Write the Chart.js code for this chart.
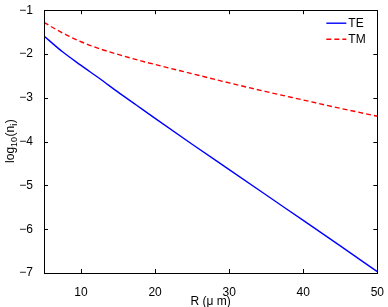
<!DOCTYPE html>
<html>
<head>
<meta charset="utf-8">
<script src="https://cdn.jsdelivr.net/npm/chart.js@4"></script>
<style>
  html, body { margin: 0; padding: 0; background: #fff; overflow: hidden; }
  canvas { display: block; }
</style>
</head>
<body>
<canvas id="chart" width="388" height="307"></canvas>
<script>
const rValues  = [5, 7.5, 10, 12.5, 15, 17.5, 20, 25, 30, 35, 40, 45, 50];
const teValues = [-1.59, -1.95, -2.26, -2.56, -2.87, -3.17, -3.47, -4.06, -4.64, -5.22, -5.80, -6.38, -6.97];
const tmValues = [-1.28, -1.52, -1.72, -1.88, -2.01, -2.13, -2.24, -2.45, -2.66, -2.86, -3.05, -3.24, -3.42];
const xTicks = [10, 20, 30, 40, 50];
const yTicks = [-7, -6, -5, -4, -3, -2, -1];
const seriesNames = ['TE', 'TM'];

const font = "'Liberation Sans', Arial, sans-serif";
const minus = v => String(v).replace('-', '\u2212');

// box, inward ticks, legend and y label
const decor = {
  id: 'decor',
  afterDraw(chart) {
    const { ctx, chartArea: a, scales: { x, y } } = chart;
    ctx.save();
    ctx.strokeStyle = '#000';
    ctx.lineWidth = 1;
    ctx.beginPath();
    xTicks.forEach(v => {
      const px = Math.round(x.getPixelForValue(v)) + 0.5;
      ctx.moveTo(px, a.bottom); ctx.lineTo(px, a.bottom - 4);
      ctx.moveTo(px, a.top); ctx.lineTo(px, a.top + 4);
    });
    yTicks.forEach(v => {
      const py = Math.round(y.getPixelForValue(v)) + 0.5;
      ctx.moveTo(a.left, py); ctx.lineTo(a.left + 4, py);
      ctx.moveTo(a.right, py); ctx.lineTo(a.right - 4, py);
    });
    ctx.stroke();
    ctx.strokeRect(Math.round(a.left) + 0.5, Math.round(a.top) + 0.5,
                   Math.round(a.right - a.left), Math.round(a.bottom - a.top));

    // legend
    ctx.font = '12px ' + font;
    ctx.textBaseline = 'middle';
    ctx.fillStyle = '#000';
    chart.data.datasets.forEach((ds, i) => {
      const ly = a.top + 13 + i * 16;
      ctx.strokeStyle = ds.borderColor;
      ctx.lineWidth = 1.4;
      ctx.setLineDash(ds.borderDash || []);
      ctx.beginPath();
      ctx.moveTo(a.right - 51, ly); ctx.lineTo(a.right - 31, ly);
      ctx.stroke();
      ctx.setLineDash([]);
      ctx.fillText(seriesNames[i], a.right - 29, ly);
    });

    // y label: log10(n_i)
    ctx.translate(11, (a.top + a.bottom) / 2);
    ctx.rotate(-Math.PI / 2);
    const big = '12px ' + font, small = '9px ' + font;
    const parts = [['log', big, 0], ['10', small, 4], ['(n', big, 0], ['i', small, 4], [')', big, 0]];
    let w = 0;
    parts.forEach(p => { ctx.font = p[1]; w += ctx.measureText(p[0]).width; });
    let cx = -w / 2;
    ctx.fillStyle = '#000';
    ctx.textBaseline = 'middle';
    parts.forEach(p => {
      ctx.font = p[1];
      ctx.fillText(p[0], cx, p[2]);
      cx += ctx.measureText(p[0]).width + (p[1] === small ? 0.5 : 0);
    });
    ctx.restore();
  }
};

new Chart(document.getElementById('chart'), {
  type: 'line',
  data: {
    datasets: [
      {
        label: seriesNames[0],
        data: rValues.map((r, i) => ({ x: r, y: teValues[i] })),
        borderColor: '#0000ff', borderWidth: 1.4, pointRadius: 0,
        cubicInterpolationMode: 'monotone', fill: false
      },
      {
        label: seriesNames[1],
        data: rValues.map((r, i) => ({ x: r, y: tmValues[i] })),
        borderColor: '#ff0000', borderWidth: 1.4, borderDash: [5, 3], pointRadius: 0,
        cubicInterpolationMode: 'monotone', fill: false
      }
    ]
  },
  options: {
    responsive: false, animation: false,
    devicePixelRatio: 1,
    layout: { padding: { top: 10, right: 10, left: 0, bottom: 0 } },
    plugins: { legend: { display: false }, tooltip: { enabled: false } },
    scales: {
      x: {
        type: 'linear', min: 5, max: 50,
        afterBuildTicks: s => { s.ticks = xTicks.map(v => ({ value: v })); },
        afterFit: s => { s.height = 34; },
        grid: { display: false }, border: { display: false },
        ticks: { color: '#000', font: { family: font, size: 12 }, padding: 4, maxRotation: 0, callback: v => minus(v) },
        title: { display: true, text: 'R (\u03bc m)', color: '#000', font: { family: font, size: 12 }, padding: { top: 0, bottom: -2 } }
      },
      y: {
        type: 'linear', min: -7, max: -1,
        afterBuildTicks: s => { s.ticks = yTicks.map(v => ({ value: v })); },
        afterFit: s => { s.width = 44; },
        grid: { display: false }, border: { display: false },
        ticks: { color: '#000', font: { family: font, size: 12 }, padding: 3, callback: v => minus(v) }
      }
    }
  },
  plugins: [decor]
});
</script>
</body>
</html>
